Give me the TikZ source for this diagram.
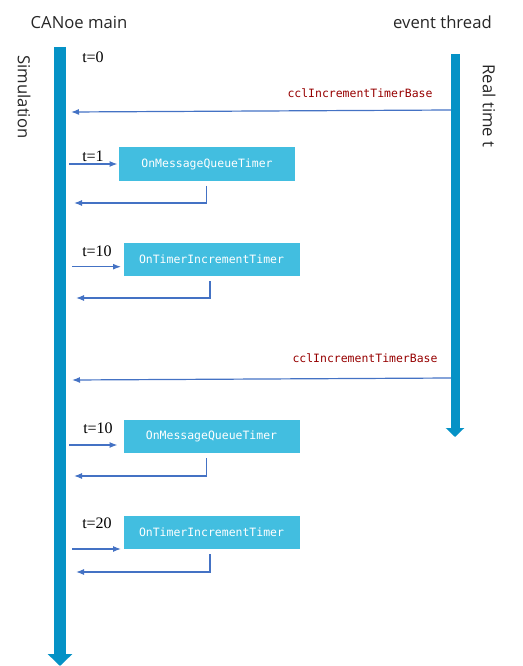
\documentclass[tikz,border=0pt]{standalone}
\usepackage{fontspec}
\setmainfont{Liberation Serif}
\setmonofont{DejaVu Sans Mono}
\newfontfamily\uifont{Open Sans}
\usetikzlibrary{arrows.meta}
\definecolor{barblue}{RGB}{5,146,198}
\definecolor{boxblue}{RGB}{66,190,224}
\definecolor{arrblue}{RGB}{68,114,196}
\definecolor{codered}{RGB}{150,0,0}
\tikzset{
  lane/.style={draw=barblue, line width=9pt},
  laneR/.style={draw=barblue, line width=6.75pt},
  arr/.style={draw=arrblue, line width=0.9pt, -{Latex[length=6pt,width=4.5pt]}},
  line/.style={draw=arrblue, line width=0.9pt},
  fnbox/.style={fill=boxblue, text=white, font=\ttfamily\fontsize{8.6}{10}\selectfont, minimum width=132pt, minimum height=25pt, inner sep=0pt},
  tlabel/.style={font=\fontsize{12}{14}\selectfont, anchor=west, inner sep=0pt},
  ccl/.style={text=codered, font=\ttfamily\fontsize{8.6}{10}\selectfont, inner sep=0pt},
  head/.style={font=\uifont\fontsize{12.5}{15}\selectfont, inner sep=0pt, text=black!85}
}
\begin{document}
\begin{tikzpicture}[x=0.75pt,y=-0.75pt]
\useasboundingbox (0,0) rectangle (523,666);
% lanes
\coordinate (Ltop) at (60,47);
\coordinate (Lbot) at (60,666);
\coordinate (Rtop) at (455,54);
\coordinate (Rbot) at (455,437);
\draw[lane, -{Triangle[width=18pt,length=9pt]}] (Ltop) -- (Lbot);
\draw[laneR, -{Triangle[width=13.5pt,length=6.75pt]}] (Rtop) -- (Rbot);
% headings
\node[head] (hmain) at (79,22) {CANoe main};
\node[head] (hevent) at (442.5,22) {event thread};
\node[head, rotate=-90] (hsim) at (24,97) {Simulation};
\node[head, rotate=-90] (hreal) at (489,106) {Real time t};
% t=0
\node[tlabel] (t0) at (82,57) {t=0};
% first ccl
\coordinate (e1) at (451,110);
\coordinate (s1) at (71,112);
\draw[arr] (e1) -- (s1);
\node[ccl] (c1) at (360,93) {cclIncrementTimerBase};
% box 1
\node[fnbox] (b1) at (207,164) {OnMessageQueueTimer};
\node[tlabel] (t1) at (82,156) {t=1};
\coordinate (i1) at (69,164);
\coordinate (j1) at (117.5,164);
\draw[arr] (i1) -- (j1);
\coordinate (r1a) at (206.7,186);
\coordinate (r1b) at (206.7,203);
\coordinate (r1c) at (74,203);
\draw[arr] (r1a) -- (r1b) -- (r1c);
% box 2
\node[fnbox] (b2) at (211.5,259.5) {OnTimerIncrementTimer};
\node[tlabel] (t2) at (82,251) {t=10};
\coordinate (i2) at (72,266.7);
\coordinate (j2) at (121,266.7);
\draw[arr] (i2) -- (j2);
\coordinate (r2a) at (210,281);
\coordinate (r2b) at (210,298);
\coordinate (r2c) at (76,298);
\draw[arr] (r2a) -- (r2b) -- (r2c);
% second ccl
\coordinate (e2) at (451,378);
\coordinate (s2) at (72,380);
\draw[arr] (e2) -- (s2);
\node[ccl] (c2) at (365,358) {cclIncrementTimerBase};
% box 3
\node[fnbox] (b3) at (211.5,436.5) {OnMessageQueueTimer};
\node[tlabel] (t3) at (83,428) {t=10};
\coordinate (i3) at (69,445);
\coordinate (j3) at (117.5,445);
\draw[arr] (i3) -- (j3);
\coordinate (r3a) at (206.7,458);
\coordinate (r3b) at (206.7,476);
\coordinate (r3c) at (74,476);
\draw[arr] (r3a) -- (r3b) -- (r3c);
% box 4
\node[fnbox] (b4) at (211.5,532.5) {OnTimerIncrementTimer};
\node[tlabel] (t4) at (82,523) {t=20};
\coordinate (i4) at (72,549);
\coordinate (j4) at (121,549);
\draw[arr] (i4) -- (j4);
\coordinate (r4a) at (210,554);
\coordinate (r4b) at (210,572);
\coordinate (r4c) at (76,572);
\draw[arr] (r4a) -- (r4b) -- (r4c);
\end{tikzpicture}
\end{document}
